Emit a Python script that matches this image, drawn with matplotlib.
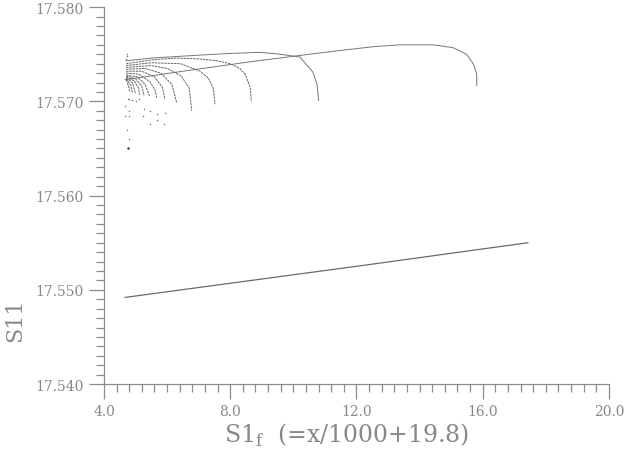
import matplotlib
matplotlib.use("Agg")
import matplotlib.pyplot as plt

# arcs of the upper family (x, S11)
arc_a_x = [4.67, 6.5, 8.63, 10.5, 11.48, 12.53, 13.38, 14.43, 15.06, 15.49, 15.70, 15.81, 15.81]
arc_a_y = [17.5723, 17.5732, 17.5742, 17.5750, 17.5754, 17.5758, 17.5760, 17.5760, 17.5757,
           17.5750, 17.5740, 17.5729, 17.5717]
arc_b_x = [4.70, 5.5, 6.5, 7.5, 8.1, 8.94, 9.6, 10.21, 10.62, 10.75, 10.80]
arc_b_y = [17.5743, 17.5746, 17.5748, 17.5750, 17.5751, 17.5752, 17.5750, 17.5747, 17.5731,
           17.5718, 17.5701]
arc_c_x = [4.70, 5.5, 6.3, 7.04, 7.6, 7.99, 8.3, 8.47, 8.63, 8.67]
arc_c_y = [17.5740, 17.5744, 17.5746, 17.5745, 17.5743, 17.5740, 17.5735, 17.5729, 17.5715, 17.5700]
arc_d_x = [4.70, 5.5, 6.42, 7.04, 7.3, 7.46, 7.52]
arc_d_y = [17.5738, 17.5741, 17.5740, 17.5732, 17.5725, 17.5714, 17.5697]
arc_e_x = [4.70, 5.5, 6.0, 6.45, 6.7, 6.78]
arc_e_y = [17.5736, 17.5738, 17.5735, 17.5727, 17.5714, 17.5690]
arc_f_x = [4.70, 5.3, 5.8, 6.15, 6.30]
arc_f_y = [17.5734, 17.5735, 17.5730, 17.5718, 17.5699]
arc_g_x = [4.70, 5.2, 5.6, 5.85, 5.93]
arc_g_y = [17.5732, 17.5732, 17.5726, 17.5715, 17.5702]
arc_h_x = [4.70, 5.1, 5.45, 5.62, 5.67]
arc_h_y = [17.5730, 17.5729, 17.5721, 17.5712, 17.5704]
arc_i_x = [4.70, 5.05, 5.3, 5.45]
arc_i_y = [17.5728, 17.5726, 17.5718, 17.5705]
arc_j_x = [4.70, 5.0, 5.2, 5.27]
arc_j_y = [17.5727, 17.5724, 17.5716, 17.5706]
arc_k_x = [4.70, 4.95, 5.1, 5.12]
arc_k_y = [17.5726, 17.5722, 17.5714, 17.5707]
arc_l_x = [4.70, 4.9, 5.0]
arc_l_y = [17.5725, 17.5720, 17.5708]
arc_m_x = [4.70, 4.85, 4.9]
arc_m_y = [17.5724, 17.5717, 17.5709]
arc_n_x = [4.70, 4.78, 4.82]
arc_n_y = [17.5723, 17.5716, 17.5710]

# loose dots below the arcs
dots_x = [4.70, 4.72, 4.72, 4.75, 4.8, 4.9, 5.0, 5.1, 4.66, 4.8, 5.27, 5.45, 5.67, 5.93,
          4.68, 4.8, 5.25, 5.45, 5.67, 5.9, 4.78, 4.76, 4.72]
dots_y = [17.5745, 17.5748, 17.5750, 17.5702, 17.5703, 17.5701, 17.5700, 17.5702, 17.5695,
          17.5690, 17.5692, 17.5690, 17.5687, 17.5688, 17.5685, 17.5684, 17.5685, 17.5676,
          17.5680, 17.5676, 17.5660, 17.5651, 17.5670]

# lower straight branch
low_x = [4.67, 8.0, 12.0, 17.43]
low_y = [17.5492, 17.5507, 17.5525, 17.5550]

arcs = [(arc_a_x, arc_a_y), (arc_b_x, arc_b_y), (arc_c_x, arc_c_y), (arc_d_x, arc_d_y),
        (arc_e_x, arc_e_y), (arc_f_x, arc_f_y), (arc_g_x, arc_g_y), (arc_h_x, arc_h_y),
        (arc_i_x, arc_i_y), (arc_j_x, arc_j_y), (arc_k_x, arc_k_y), (arc_l_x, arc_l_y),
        (arc_m_x, arc_m_y), (arc_n_x, arc_n_y)]

GRAY = "#8c8c8c"
plt.rcParams["font.family"] = ["DejaVu Serif"]

fig = plt.figure(figsize=(6.4, 4.52), dpi=100)
ax = fig.add_axes([0.1625, 0.148, 0.789, 0.834])

for i, (xs, ys) in enumerate(arcs):
    ax.plot(xs, ys, color="#777777" if i < 2 else "#666666", lw=0.7,
            ls="-" if i < 2 else (0, (2.5, 0.8)))
ax.scatter(dots_x, dots_y, s=1.2, color="#7a7a7a", lw=0)
ax.scatter([4.76], [17.5651], s=3, color="#333333", lw=0)
ax.plot(low_x, low_y, color="#6a6a6a", lw=0.9)

ax.set_xlim(4.0, 20.0)
ax.set_ylim(17.540, 17.580)
ax.set_xticks([4.0, 8.0, 12.0, 16.0, 20.0])
ax.set_xticklabels(["4.0", "8.0", "12.0", "16.0", "20.0"])
ax.set_yticks([17.540, 17.550, 17.560, 17.570, 17.580])
ax.set_yticklabels(["17.540", "17.550", "17.560", "17.570", "17.580"])
ax.set_xticks([4.0 + 0.4 * i for i in range(41)], minor=True)
ax.set_yticks([17.540 + 0.001 * i for i in range(41)], minor=True)

for side in ["top", "right"]:
    ax.spines[side].set_visible(False)
for side in ["left", "bottom"]:
    ax.spines[side].set_color(GRAY)
    ax.spines[side].set_linewidth(0.9)
ax.tick_params(which="major", length=11, width=0.9, color=GRAY, labelcolor="#888888",
               labelsize=10)
ax.tick_params(which="minor", length=6, width=0.9, color=GRAY)

ax.set_xlabel("S1$_\\mathregular{f}$  (=x/1000+19.8)", fontsize=17, color="#888888")
ax.set_ylabel("S11", fontsize=16, color="#888888")
ax.xaxis.set_label_coords(0.48, -0.098)
ax.yaxis.set_label_coords(-0.155, 0.172)

fig.savefig("out.png", dpi=100)
